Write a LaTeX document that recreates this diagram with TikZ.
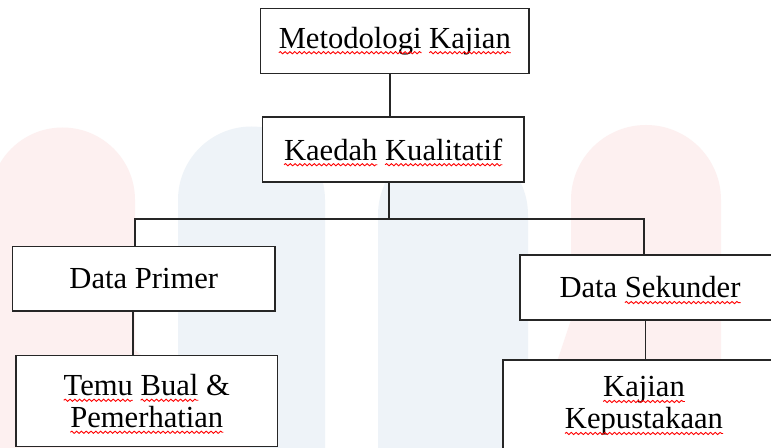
\documentclass[tikz,border=0pt]{standalone}
\usepackage{fontspec}
\setmainfont{Liberation Serif}
\usepackage{tikz}
\usetikzlibrary{shapes,positioning,decorations.pathmorphing}

\definecolor{wmpink}{HTML}{FDF0F0}
\definecolor{wmblue}{HTML}{EEF3F8}

% red wavy underline, as left by a spell checker
\newcommand\squig[1]{\tikz[baseline=(w.base),x=1pt,y=1pt]{%
   \node[rectangle, draw=none, fill=none, inner sep=0pt, outer sep=0pt, minimum width=0pt, minimum height=0pt, anchor=center] (w) {#1};
   \draw[overlay, red, line width=0.45pt, decorate, decoration={snake, amplitude=0.55pt, segment length=2.4pt}] ([yshift=-2.3pt]w.base west) -- ([yshift=-2.3pt]w.base east);}}

\begin{document}
\begin{tikzpicture}[x=0.5pt,y=-0.5pt]
   \clip (0,0) rectangle (771,448);
   \fill[white] (0,0) rectangle (771,448);
   % faint watermark behind the chart
   \fill[wmblue] (178,448) -- (178,200) arc[start angle=180,end angle=360,radius=73.5] -- (325,448) -- cycle;
   \fill[wmblue] (378,448) -- (378,215) arc[start angle=180,end angle=360,radius=75] -- (528,448) -- cycle;
   \fill[wmpink] (-10,448) -- (-10,200) arc[start angle=180,end angle=360,radius=72.5] -- (135,350) -- (250,448) -- cycle;
   \fill[wmpink] (528,448) -- (571,320) -- (571,200) arc[start angle=180,end angle=360,radius=75] -- (721,448) -- cycle;
   \fontsize{15.3pt}{16pt}\selectfont
   \tikzstyle{main}=[rectangle, draw=black!85, line width=0.7pt, fill=white, inner sep=0pt, align=center]
   \node[main, minimum width=134.2pt, minimum height=32.5pt] (meto) at (394.8,40.8) {\squig{Metodologi} \squig{Kajian}};
   \node[main, minimum width=130.8pt, minimum height=32.5pt] (kaedah) at (393.2,149.5) {\squig{Kaedah} \squig{Kualitatif}};
   \node[main, minimum width=131.2pt, minimum height=32.2pt] (primer) at (143.8,278.8) {Data Primer};
   \node[main, minimum width=130.9pt, minimum height=45.5pt] (temu) at (146.8,401.2) {\squig{Temu} \squig{Bual} \&\\ \squig{Pemerhatian}};
   \node[main, minimum width=130pt, minimum height=32.5pt] (sekunder) at (650,287.5) {Data \squig{Sekunder}};
   \node[main, minimum width=141pt, minimum height=46pt] (kajian) at (644,406) {\squig{Kajian}\\ \squig{Kepustakaan}};
   \tikzstyle{link}=[draw=black!85, line width=0.7pt]
   \coordinate (top) at (390,0);
   \coordinate (forkL) at (135,219);
   \coordinate (forkM) at (389,219);
   \coordinate (forkR) at (644,219);
   \coordinate (leftdrop) at (133,0);
   \coordinate (rightdrop) at (645.5,0);
   \path[link] (meto.south -| top) -- (kaedah.north -| top);
   \path[link] (kaedah.south -| forkM) -- (forkM);
   \path[link] (primer.north -| forkL) -- (forkL) -- (forkR) -- (sekunder.north -| forkR);
   \path[link] (primer.south -| leftdrop) -- (temu.north -| leftdrop);
   \path[link] (sekunder.south -| rightdrop) -- (kajian.north -| rightdrop);
\end{tikzpicture}
\end{document}
